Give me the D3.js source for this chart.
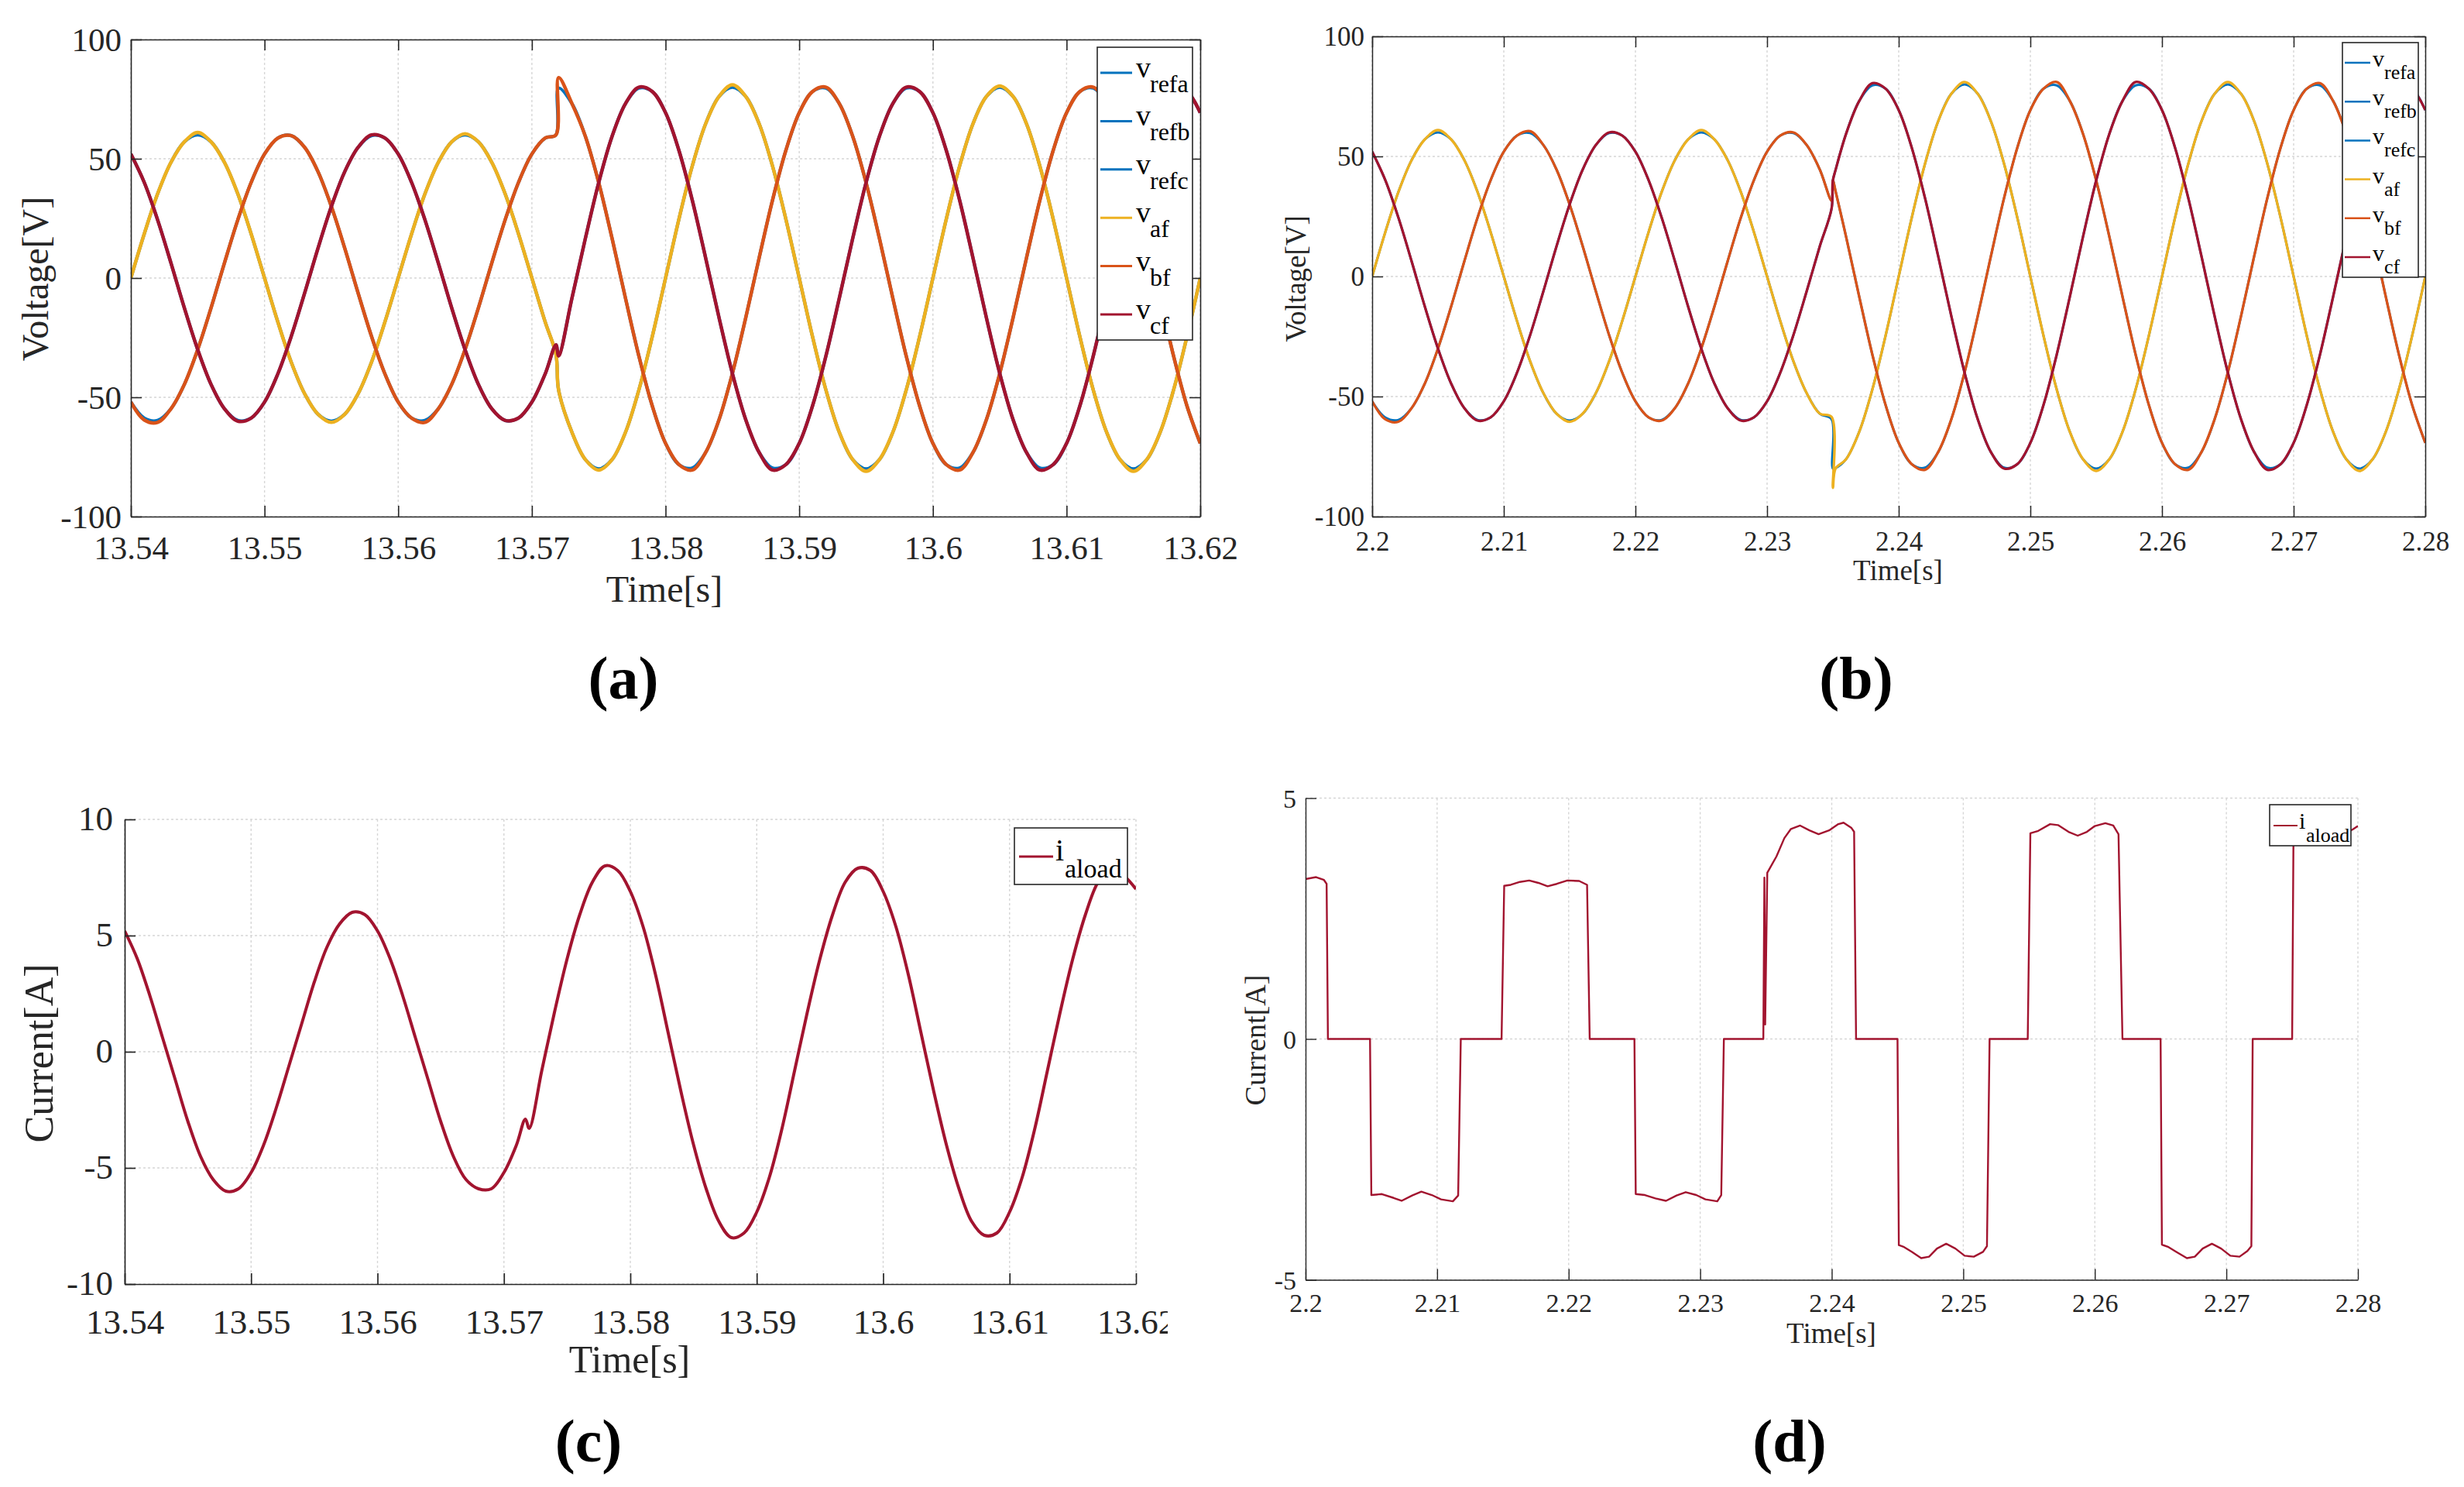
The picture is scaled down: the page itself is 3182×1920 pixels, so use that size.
<!DOCTYPE html>
<html><head><meta charset="utf-8">
<script src="https://cdn.jsdelivr.net/npm/d3@7"></script>
<style>
body{margin:0;background:#fff}
svg text{font-family:"Liberation Serif","Times New Roman",serif}
</style>
</head><body>
<svg id="chart" width="3182" height="1920"></svg>
<script>
// ---------------- DATA ----------------
// Panel (a): time offsets in ms from 13.54 s
const tA_ms = [0,1,2,3,4,5,6,7,8,9,10,11,12,13,14,15,16,17,18,19,20,21,22,23,24,25,26,27,28,29,30,31,31.8,32,33,34,35,36,37,38,39,40,41,42,43,44,45,46,47,48,49,50,51,52,53,54,55,56,57,58,59,60,61,62,63,64,65,66,67,68,69,70,71,72,73,74,75,76,77,78,79,80];
const vRefA_a = [0,18.5,35.3,48.5,57.1,60,57.1,48.5,35.3,18.5, 0,-18.5,-35.3,-48.5,-57.1,-60,-57.1,-48.5,-35.3,-18.5, 0,18.5,35.3,48.5,57.1,60,57.1,48.5,35.3,18.5, 0,-18.5,-32, -47,-64.7,-76.1,-80,-76.1,-64.7,-47,-24.7, 0,24.7,47,64.7,76.1,80,76.1,64.7,47,24.7, 0,-24.7,-47,-64.7,-76.1,-80,-76.1,-64.7,-47,-24.7, 0,24.7,47,64.7,76.1,80,76.1,64.7,47,24.7, 0,-24.7,-47,-64.7,-76.1,-80,-76.1,-64.7,-47,-24.7, 0];
const vRefB_a = [-52,-58.7,-59.7,-54.8,-44.6,-30,-12.5,6.3,24.4,40.1, 52,58.7,59.7,54.8,44.6,30,12.5,-6.3,-24.4,-40.1, -52,-58.7,-59.7,-54.8,-44.6,-30,-12.5,6.3,24.4,40.1, 52,58.7,60, 79.6,73.1,59.4,40,16.6,-8.4,-32.6,-53.5, -69.3,-78.2,-79.6,-73.1,-59.4,-40,-16.6,8.4,32.6,53.5, 69.3,78.2,79.6,73.1,59.4,40,16.6,-8.4,-32.6,-53.5, -69.3,-78.2,-79.6,-73.1,-59.4,-40,-16.6,8.4,32.6,53.5, 69.3,78.2,79.6,73.1,59.4,40,16.6,-8.4,-32.6,-53.5, -69.3];
const vRefC_a = [52,40.1,24.4,6.3,-12.5,-30,-44.6,-54.8,-59.7,-58.7, -52,-40.1,-24.4,-6.3,12.5,30,44.6,54.8,59.7,58.7, 52,40.1,24.4,6.3,-12.5,-30,-44.6,-54.8,-59.7,-58.7, -52,-40.1,-28, -32.6,-8.4,16.6,40,59.4,73.1,79.6,78.2, 69.3,53.5,32.6,8.4,-16.6,-40,-59.4,-73.1,-79.6,-78.2, -69.3,-53.5,-32.6,-8.4,16.6,40,59.4,73.1,79.6,78.2, 69.3,53.5,32.6,8.4,-16.6,-40,-59.4,-73.1,-79.6,-78.2, -69.3,-53.5,-32.6,-8.4,16.6,40,59.4,73.1,79.6,78.2, 69.3];
const vAf_a = [0,18.5,35.3,48.5,57.1,61,57.1,48.5,35.3,18.5, 0,-18.5,-35.3,-48.5,-57.1,-60.5,-57.1,-48.5,-35.3,-18.5, 0,18.5,35.3,48.5,57.1,60.5,57.1,48.5,35.3,18.5, 0,-18.5,-32, -47,-64.7,-76.1,-80.5,-76.1,-64.7,-47,-24.7, 0,24.7,47,64.7,76.1,81,76.1,64.7,47,24.7, 0,-24.7,-47,-64.7,-76.1,-81,-76.1,-64.7,-47,-24.7, 0,24.7,47,64.7,76.1,80.5,76.1,64.7,47,24.7, 0,-24.7,-47,-64.7,-76.1,-81,-76.1,-64.7,-47,-24.7, 0];
const vBf_a = [-52,-59.5,-60.5,-54.8,-44.6,-30,-12.5,6.3,24.4,40.1, 52,58.7,59.7,54.8,44.6,30,12.5,-6.3,-24.4,-40.1, -52,-58.7,-60.5,-54.8,-44.6,-30,-12.5,6.3,24.4,40.1, 52,58.7,60, 84,73.1,59.4,40,16.6,-8.4,-32.6,-53.5, -69.3,-78.2,-80.5,-73.1,-59.4,-40,-16.6,8.4,32.6,53.5, 69.3,78.2,80,73.1,59.4,40,16.6,-8.4,-32.6,-53.5, -69.3,-78.2,-80.5,-73.1,-59.4,-40,-16.6,8.4,32.6,53.5, 69.3,78.2,80,73.1,59.4,40,16.6,-8.4,-32.6,-53.5, -69.3];
const vCf_a = [52,40.1,24.4,6.3,-12.5,-30,-44.6,-54.8,-60,-58.7, -52,-40.1,-24.4,-6.3,12.5,30,44.6,54.8,60,58.7, 52,40.1,24.4,6.3,-12.5,-30,-44.6,-54.8,-59.7,-58.7, -52,-40.1,-28, -32.6,-8.4,16.6,40,59.4,73.1,80,78.2, 69.3,53.5,32.6,8.4,-16.6,-40,-59.4,-73.1,-80.5,-78.2, -69.3,-53.5,-32.6,-8.4,16.6,40,59.4,73.1,80,78.2, 69.3,53.5,32.6,8.4,-16.6,-40,-59.4,-73.1,-80.5,-78.2, -69.3,-53.5,-32.6,-8.4,16.6,40,59.4,73.1,79.6,78.2, 69.3];

// Panel (b): time offsets in ms from 2.2 s
const tB_ms = [0,1,2,3,4,5,6,7,8,9,10,11,12,13,14,15,16,17,18,19,20,21,22,23,24,25,26,27,28,29,30,31,32,33,34,34.9,35,35.2,36,37,38,39,40,41,42,43,44,45,46,47,48,49,50,51,52,53,54,55,56,57,58,59,60,61,62,63,64,65,66,67,68,69,70,71,72,73,74,75,76,77,78,79,80];
const vRefA_b = [0,18.5,35.3,48.5,57.1,60,57.1,48.5,35.3,18.5, 0,-18.5,-35.3,-48.5,-57.1,-60,-57.1,-48.5,-35.3,-18.5, 0,18.5,35.3,48.5,57.1,60,57.1,48.5,35.3,18.5, 0,-18.5,-35.3,-48.5,-57.1, -59.5,-80,-79.8, -76.1,-64.7,-47,-24.7, 0,24.7,47,64.7,76.1,80,76.1,64.7,47,24.7, 0,-24.7,-47,-64.7,-76.1,-80,-76.1,-64.7,-47,-24.7, 0,24.7,47,64.7,76.1,80,76.1,64.7,47,24.7, 0,-24.7,-47,-64.7,-76.1,-80,-76.1,-64.7,-47,-24.7, 0];
const vRefB_b = [-52,-58.7,-59.7,-54.8,-44.6,-30,-12.5,6.3,24.4,40.1, 52,58.7,59.7,54.8,44.6,30,12.5,-6.3,-24.4,-40.1, -52,-58.7,-59.7,-54.8,-44.6,-30,-12.5,6.3,24.4,40.1, 52,58.7,59.7,54.8,44.6, 31.6,40,35.6, 16.6,-8.4,-32.6,-53.5, -69.3,-78.2,-79.6,-73.1,-59.4,-40,-16.6,8.4,32.6,53.5, 69.3,78.2,79.6,73.1,59.4,40,16.6,-8.4,-32.6,-53.5, -69.3,-78.2,-79.6,-73.1,-59.4,-40,-16.6,8.4,32.6,53.5, 69.3,78.2,79.6,73.1,59.4,40,16.6,-8.4,-32.6,-53.5, -69.3];
const vRefC_b = [52,40.1,24.4,6.3,-12.5,-30,-44.6,-54.8,-59.7,-58.7, -52,-40.1,-24.4,-6.3,12.5,30,44.6,54.8,59.7,58.7, 52,40.1,24.4,6.3,-12.5,-30,-44.6,-54.8,-59.7,-58.7, -52,-40.1,-24.4,-6.3,12.5, 28.3,40,44.3, 59.4,73.1,79.6,78.2, 69.3,53.5,32.6,8.4,-16.6,-40,-59.4,-73.1,-79.6,-78.2, -69.3,-53.5,-32.6,-8.4,16.6,40,59.4,73.1,79.6,78.2, 69.3,53.5,32.6,8.4,-16.6,-40,-59.4,-73.1,-79.6,-78.2, -69.3,-53.5,-32.6,-8.4,16.6,40,59.4,73.1,79.6,78.2, 69.3];
const vAf_b = [0,18.5,35.3,48.5,57.1,61,57.1,48.5,35.3,18.5, 0,-18.5,-35.3,-48.5,-57.1,-60.5,-57.1,-48.5,-35.3,-18.5, 0,18.5,35.3,48.5,57.1,61,57.1,48.5,35.3,18.5, 0,-18.5,-35.3,-48.5,-57.1, -58.5,-88,-80, -76.1,-64.7,-47,-24.7, 0,24.7,47,64.7,76.1,81,76.1,64.7,47,24.7, 0,-24.7,-47,-64.7,-76.1,-81,-76.1,-64.7,-47,-24.7, 0,24.7,47,64.7,76.1,81,76.1,64.7,47,24.7, 0,-24.7,-47,-64.7,-76.1,-81,-76.1,-64.7,-47,-24.7, 0];
const vBf_b = [-52,-59.5,-60.5,-54.8,-44.6,-30,-12.5,6.3,24.4,40.1, 52,58.7,60.5,54.8,44.6,30,12.5,-6.3,-24.4,-40.1, -52,-58.7,-60,-54.8,-44.6,-30,-12.5,6.3,24.4,40.1, 52,58.7,60,54.8,44.6, 31.6,40,35.6, 16.6,-8.4,-32.6,-53.5, -69.3,-78.2,-80.5,-73.1,-59.4,-40,-16.6,8.4,32.6,53.5, 69.3,78.2,81,73.1,59.4,40,16.6,-8.4,-32.6,-53.5, -69.3,-78.2,-80.5,-73.1,-59.4,-40,-16.6,8.4,32.6,53.5, 69.3,78.2,80.5,73.1,59.4,40,16.6,-8.4,-32.6,-53.5, -69.3];
const vCf_b = [52,40.1,24.4,6.3,-12.5,-30,-44.6,-54.8,-60,-58.7, -52,-40.1,-24.4,-6.3,12.5,30,44.6,54.8,60,58.7, 52,40.1,24.4,6.3,-12.5,-30,-44.6,-54.8,-60,-58.7, -52,-40.1,-24.4,-6.3,12.5, 28.3,40,44.3, 59.4,73.1,80.5,78.2, 69.3,53.5,32.6,8.4,-16.6,-40,-59.4,-73.1,-80,-78.2, -69.3,-53.5,-32.6,-8.4,16.6,40,59.4,73.1,81,78.2, 69.3,53.5,32.6,8.4,-16.6,-40,-59.4,-73.1,-80.5,-78.2, -69.3,-53.5,-32.6,-8.4,16.6,40,59.4,73.1,80.5,78.2, 69.3];

// Panel (c): time offsets in ms from 13.54 s, load current [A]
const tC_ms = [0,1,2,3,4,5,6,7,8,9,10,11,12,13,14,15,16,17,18,19,20,21,22,23,24,25,26,27,28,29,30,31,31.7,32,33,34,35,36,37,38,39,40,41,42,43,44,45,46,47,48,49,50,51,52,53,54,55,56,57,58,59,60,61,62,63,64,65,66,67,68,69,70,71,72,73,74,75,76,77,78,79,80];
const iLoad_c = [5.2,4.0,2.4,0.6,-1.2,-3.0,-4.5,-5.5,-6.0,-5.9, -5.2,-4.0,-2.4,-0.6,1.2,3.0,4.5,5.5,6.0,5.9, 5.2,4.0,2.4,0.6,-1.2,-3.0,-4.5,-5.5,-5.9,-5.9, -5.2,-4.0,-2.9, -3.3,-0.8,1.7,4.0,5.9,7.3,8.0,7.8, 6.9,5.4,3.3,0.8,-1.7,-4.0,-5.9,-7.3,-8.0,-7.8, -6.9,-5.4,-3.3,-0.8,1.7,4.0,5.9,7.3,7.9,7.8, 6.9,5.4,3.3,0.8,-1.7,-4.0,-5.9,-7.3,-7.9,-7.8, -6.9,-5.4,-3.3,-0.8,1.7,4.0,5.9,7.3,7.9,7.6, 7.0];

// Panel (d): time [s] and load current [A]
const tD = [2.2000,2.2008,2.2014,2.2016,2.2017,2.2049,2.2050,2.2058,2.2067,2.2073,2.2081,2.2088,2.2096,2.2103,2.2112,2.2116,2.2118,
  2.2149,2.2151,2.2156,2.2163,2.2170,2.2177,2.2184,2.2191,2.2199,2.2208,2.2214,2.2216,
  2.2250,2.2251,2.2258,2.2266,2.2274,2.2282,2.2289,2.2297,2.2304,2.2313,2.2316,2.2318,
  2.2348,2.23488,2.23494,2.2351,2.2358,2.2364,2.2369,2.2376,2.2383,2.2390,2.2398,2.2405,2.2409,2.2415,2.2417,2.24185,
  2.2450,2.2451,2.2455,2.2461,2.2468,2.2474,2.2480,2.2487,2.2494,2.2501,2.2508,2.2515,2.2518,2.2520,
  2.2549,2.2551,2.2557,2.2566,2.2572,2.2580,2.2587,2.2594,2.2600,2.2608,2.2614,2.2618,2.2621,
  2.2650,2.2651,2.2656,2.2662,2.2670,2.2676,2.2682,2.2689,2.2696,2.2703,2.2710,2.2716,2.2719,2.2720,
  2.2750,2.2751,2.2756,2.2764,2.2772,2.2780,2.2788,2.2796,2.2800];
const iD = [3.32,3.36,3.30,3.22,0.0,0.0,-3.24,-3.22,-3.30,-3.36,-3.25,-3.17,-3.24,-3.33,-3.37,-3.25,0.0,
  0.0,3.18,3.20,3.26,3.29,3.24,3.17,3.22,3.29,3.28,3.20,0.0,
  0.0,-3.22,-3.24,-3.31,-3.36,-3.25,-3.18,-3.24,-3.33,-3.37,-3.24,0.0,
  0.0,3.35,0.3,3.45,3.79,4.17,4.36,4.43,4.33,4.25,4.33,4.46,4.49,4.38,4.30,0.0,
  0.0,-4.28,-4.32,-4.42,-4.55,-4.52,-4.35,-4.25,-4.35,-4.50,-4.52,-4.42,-4.30,0.0,
  0.0,4.27,4.32,4.46,4.44,4.30,4.22,4.30,4.42,4.48,4.43,4.25,0.0,
  0.0,-4.27,-4.32,-4.42,-4.55,-4.52,-4.35,-4.25,-4.35,-4.50,-4.52,-4.40,-4.30,0.0,
  0.0,4.15,4.30,4.44,4.42,4.30,4.23,4.35,4.42];

// Tick labels
const xTicksA = ["13.54","13.55","13.56","13.57","13.58","13.59","13.6","13.61","13.62"];
const xTicksB = ["2.2","2.21","2.22","2.23","2.24","2.25","2.26","2.27","2.28"];
const yTicksV = ["100","50","0","-50","-100"];
const yTicksC = ["10","5","0","-5","-10"];
const yTicksD = ["5","0","-5"];
const legendV = ["refa","refb","refc","af","bf","cf"];
const legendI = ["aload"];

// ---------------- DRAWING ----------------
const C_BLUE = "#0072BD", C_YEL = "#EDB120", C_ORA = "#D95319", C_RED = "#A2142F";
const AX = "#262626";
const svg = d3.select("#chart");
svg.append("rect").attr("width",3182).attr("height",1920).attr("fill","#fff");
const defs = svg.append("defs");
let clipN = 0;

function drawPanel(p) {
  const root = svg.append("g");
  if (p.outerClip) {
    const id = "oc" + (clipN++);
    defs.append("clipPath").attr("id", id).append("rect")
      .attr("x", p.outerClip[0]).attr("y", p.outerClip[1]).attr("width", p.outerClip[2]).attr("height", p.outerClip[3]);
    root.attr("clip-path", `url(#${id})`);
  }
  const x = d3.scaleLinear().domain(p.xDomain).range([p.L, p.R]);
  const y = d3.scaleLinear().domain(p.yDomain).range([p.B, p.T]);
  const xVals = p.xLabels.map(Number), yVals = p.yLabels.map(Number);

  // grid
  const grid = root.append("g").attr("stroke", "#d6d6d6").attr("stroke-width", 1.4).attr("stroke-dasharray", "3,3");
  grid.selectAll("line.gx").data(xVals).join("line").attr("class","gx")
    .attr("x1", d => x(d)).attr("x2", d => x(d)).attr("y1", p.T).attr("y2", p.B);
  grid.selectAll("line.gy").data(yVals).join("line").attr("class","gy")
    .attr("y1", d => y(d)).attr("y2", d => y(d)).attr("x1", p.L).attr("x2", p.R);

  // series
  const cid = "pc" + (clipN++);
  defs.append("clipPath").attr("id", cid).append("rect")
    .attr("x", p.L).attr("y", p.T).attr("width", p.R - p.L).attr("height", p.B - p.T);
  const sg = root.append("g").attr("clip-path", `url(#${cid})`);
  p.series.forEach(s => {
    const gen = d3.line().x((d, i) => x(s.t[i])).y(d => y(d)).curve(s.curve || d3.curveLinear);
    sg.append("path").datum(s.v).attr("d", gen).attr("fill", "none")
      .attr("stroke", s.color).attr("stroke-width", s.width).attr("stroke-linejoin", "round");
  });

  // axes
  const styleAxis = (g) => {
    g.attr("color", AX).attr("font-family", '"Liberation Serif","Times New Roman",serif').attr("font-size", p.tickFont);
    g.select(".domain").attr("stroke-width", p.axisW);
    g.selectAll(".tick line").attr("stroke-width", p.axisW);
    g.selectAll(".tick text").attr("fill", AX);
  };
  const gb = root.append("g").attr("transform", `translate(0,${p.B})`)
    .call(d3.axisBottom(x).tickValues(xVals).tickFormat((d, i) => p.xLabels[i]).tickSizeInner(-p.tick).tickSizeOuter(0));
  styleAxis(gb);
  gb.selectAll(".tick text").attr("y", p.xLabelY).attr("dy", null);
  const gl = root.append("g").attr("transform", `translate(${p.L},0)`)
    .call(d3.axisLeft(y).tickValues(yVals).tickFormat((d, i) => p.yLabels[i]).tickSizeInner(-p.tick).tickSizeOuter(0));
  styleAxis(gl);
  gl.selectAll(".tick text").attr("x", -p.yLabelGap).attr("dy", p.yLabelDy || "0.34em");
  if (p.box) {
    const gt = root.append("g").attr("transform", `translate(0,${p.T})`)
      .call(d3.axisTop(x).tickValues(xVals).tickFormat("").tickSizeInner(-p.tick).tickSizeOuter(0));
    styleAxis(gt);
    const gr = root.append("g").attr("transform", `translate(${p.R},0)`)
      .call(d3.axisRight(y).tickValues(yVals).tickFormat("").tickSizeInner(-p.tick).tickSizeOuter(0));
    styleAxis(gr);
  }

  // axis titles
  root.append("text").attr("x", p.xTitle[0]).attr("y", p.xTitle[1]).attr("text-anchor", "middle")
    .attr("font-size", p.titleFont).attr("fill", AX).text("Time[s]");
  root.append("text").attr("transform", `translate(${p.yTitle[0]},${p.yTitle[1]}) rotate(-90)`)
    .attr("text-anchor", "middle").attr("font-size", p.yTitleFont).attr("fill", AX).text(p.yTitleText);

  // legend
  const lg = p.legend;
  root.append("rect").attr("x", lg.x).attr("y", lg.y).attr("width", lg.w).attr("height", lg.h)
    .attr("fill", "#fff").attr("stroke", AX).attr("stroke-width", 1.6);
  lg.items.forEach((it, i) => {
    const yy = lg.y0 + i * lg.dy;
    root.append("line").attr("x1", lg.lx0).attr("x2", lg.lx1).attr("y1", yy).attr("y2", yy)
      .attr("stroke", it.color).attr("stroke-width", lg.lw);
    root.append("text").attr("x", lg.mx).attr("y", yy + lg.mOff).attr("font-size", lg.mFont).attr("fill", "#000").text(it.main);
    root.append("text").attr("x", lg.sx).attr("y", yy + lg.sOff).attr("font-size", lg.sFont).attr("fill", "#000").text(it.sub);
  });

  // subfigure label
  root.append("text").attr("x", p.tag[0]).attr("y", p.tag[1]).attr("text-anchor", "middle")
    .attr("font-size", 78).attr("font-weight", "bold").attr("fill", "#000").text(p.tag[2]);
}

const cr = d3.curveCatmullRom.alpha(0.5);
const msToT = (t0, arr) => arr.map(m => t0 + m / 1000);
const tA = msToT(13.54, tA_ms), tB = msToT(2.2, tB_ms), tC = msToT(13.54, tC_ms);
const colsV = [C_BLUE, C_BLUE, C_BLUE, C_YEL, C_ORA, C_RED];

// (a)
drawPanel({
  L: 169, R: 1550, T: 51, B: 667, xDomain: [13.54, 13.62], yDomain: [-100, 100],
  xLabels: xTicksA, yLabels: yTicksV, tick: 14, axisW: 1.6, box: true,
  tickFont: 43, xLabelY: 55, yLabelGap: 12,
  series: [
    {t: tA, v: vRefA_a, color: C_BLUE, width: 4.2, curve: cr},
    {t: tA, v: vRefB_a, color: C_BLUE, width: 4.2, curve: cr},
    {t: tA, v: vRefC_a, color: C_BLUE, width: 4.2, curve: cr},
    {t: tA, v: vAf_a, color: C_YEL, width: 4.5, curve: cr},
    {t: tA, v: vBf_a, color: C_ORA, width: 4.5, curve: cr},
    {t: tA, v: vCf_a, color: C_RED, width: 4.5, curve: cr}
  ],
  titleFont: 48, xTitle: [858, 777], yTitle: [62, 360], yTitleFont: 48, yTitleText: "Voltage[V]",
  legend: {x: 1417, y: 61, w: 123, h: 378, y0: 94, dy: 62.4, lx0: 1421, lx1: 1462, lw: 3,
    mx: 1467, mOff: 6, mFont: 38, sx: 1485, sOff: 25, sFont: 32,
    items: legendV.map((s, i) => ({main: "v", sub: s, color: colsV[i]}))},
  tag: [805, 902, "(a)"]
});

// (b)
drawPanel({
  L: 1772, R: 3132, T: 47, B: 667, xDomain: [2.2, 2.28], yDomain: [-100, 100],
  xLabels: xTicksB, yLabels: yTicksV, tick: 14, axisW: 1.5, box: true,
  tickFont: 35, xLabelY: 44, yLabelGap: 10,
  series: [
    {t: tB, v: vRefA_b, color: C_BLUE, width: 3.0, curve: cr},
    {t: tB, v: vRefB_b, color: C_BLUE, width: 3.0, curve: cr},
    {t: tB, v: vRefC_b, color: C_BLUE, width: 3.0, curve: cr},
    {t: tB, v: vAf_b, color: C_YEL, width: 3.3, curve: cr},
    {t: tB, v: vBf_b, color: C_ORA, width: 3.3, curve: cr},
    {t: tB, v: vCf_b, color: C_RED, width: 3.3, curve: cr}
  ],
  titleFont: 37, xTitle: [2451, 749], yTitle: [1686, 360], yTitleFont: 37, yTitleText: "Voltage[V]",
  legend: {x: 3025, y: 55, w: 98, h: 303, y0: 81, dy: 50.2, lx0: 3028, lx1: 3061, lw: 2.5,
    mx: 3064, mOff: 5, mFont: 30, sx: 3079, sOff: 21, sFont: 26,
    items: legendV.map((s, i) => ({main: "v", sub: s, color: colsV[i]}))},
  tag: [2397, 902, "(b)"]
});

// (c)
drawPanel({
  L: 161, R: 1467, T: 1058, B: 1658, xDomain: [13.54, 13.62], yDomain: [-10, 10],
  xLabels: xTicksA, yLabels: yTicksC, tick: 14, axisW: 1.7, box: false,
  tickFont: 45, xLabelY: 64, yLabelGap: 15, yLabelDy: "0.3em", outerClip: [0, 980, 1508, 940],
  series: [{t: tC, v: iLoad_c, color: C_RED, width: 4.0, curve: cr}],
  titleFont: 50, xTitle: [813, 1772], yTitle: [68, 1360], yTitleFont: 52, yTitleText: "Current[A]",
  legend: {x: 1310, y: 1069, w: 146, h: 73, y0: 1106, dy: 0, lx0: 1316, lx1: 1360, lw: 3,
    mx: 1363, mOff: 5, mFont: 40, sx: 1375, sOff: 27, sFont: 34,
    items: legendI.map(s => ({main: "i", sub: s, color: C_RED}))},
  tag: [760, 1887, "(c)"]
});

// (d)
drawPanel({
  L: 1686, R: 3045, T: 1030.5, B: 1652.5, xDomain: [2.2, 2.28], yDomain: [-5, 5],
  xLabels: xTicksB, yLabels: yTicksD, tick: 14, axisW: 1.4, box: false,
  tickFont: 34, xLabelY: 41, yLabelGap: 12,
  series: [{t: tD, v: iD, color: C_RED, width: 2.4}],
  titleFont: 37, xTitle: [2365, 1734], yTitle: [1634, 1343], yTitleFont: 38, yTitleText: "Current[A]",
  legend: {x: 2931, y: 1039, w: 105, h: 53, y0: 1066, dy: 0, lx0: 2936, lx1: 2967, lw: 2,
    mx: 2969, mOff: 4, mFont: 30, sx: 2978, sOff: 21, sFont: 26,
    items: legendI.map(s => ({main: "i", sub: s, color: C_RED}))},
  tag: [2311, 1887, "(d)"]
});
</script>
</body></html>
